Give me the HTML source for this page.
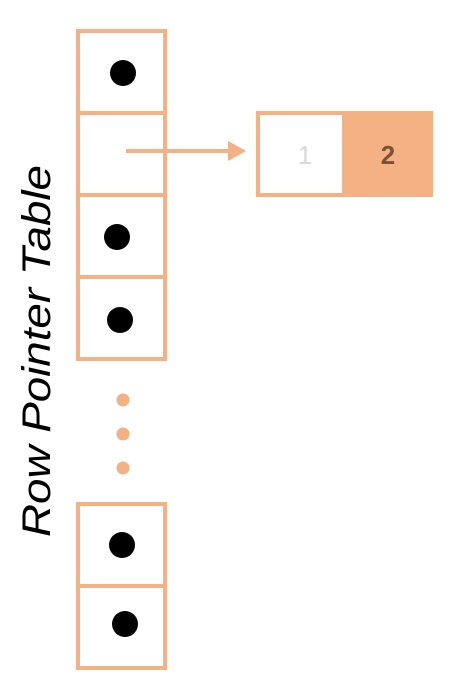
<!DOCTYPE html>
<html><head><meta charset="utf-8"><style>
html,body{margin:0;padding:0;background:#fff;}
svg{display:block;}
</style></head><body>
<svg width="467" height="688" viewBox="0 0 467 688" xmlns="http://www.w3.org/2000/svg">
<g stroke="#F4B183" stroke-width="4" fill="#fff">
<rect x="78" y="31" width="87" height="82"/>
<rect x="78" y="113" width="87" height="82"/>
<rect x="78" y="195" width="87" height="82"/>
<rect x="78" y="277" width="87" height="82"/>
<rect x="78" y="504" width="87" height="82"/>
<rect x="78" y="586" width="87" height="82"/>
</g>
<g fill="#000">
<circle cx="123" cy="73" r="13"/>
<circle cx="117" cy="237" r="13"/>
<circle cx="120" cy="320" r="13"/>
<circle cx="122" cy="545" r="13"/>
<circle cx="125" cy="624" r="13"/>
</g>
<g fill="#F4B183">
<circle cx="123" cy="400" r="6.5"/>
<circle cx="123" cy="434" r="6.5"/>
<circle cx="123" cy="468" r="6.5"/>
</g>
<line x1="126" y1="151" x2="230" y2="151" stroke="#F4B183" stroke-width="4"/>
<polygon points="228,141 246,151 228,161" fill="#F4B183"/>
<rect x="258" y="113" width="86" height="82" fill="#fff" stroke="#F4B183" stroke-width="4"/>
<rect x="344" y="111" width="89" height="86" fill="#F4B183"/>
<text x="305" y="164" font-family="Liberation Sans, sans-serif" font-size="26" fill="#d9d9d9" text-anchor="middle">1</text>
<text x="388" y="164" font-family="Liberation Sans, sans-serif" font-size="26" font-weight="bold" fill="#7a5236" text-anchor="middle">2</text>
<text transform="translate(50,351) rotate(-90)" font-family="Liberation Sans, sans-serif" font-size="40" font-style="italic" fill="#000" text-anchor="middle" textLength="372" lengthAdjust="spacingAndGlyphs">Row Pointer Table</text>
</svg>
</body></html>
